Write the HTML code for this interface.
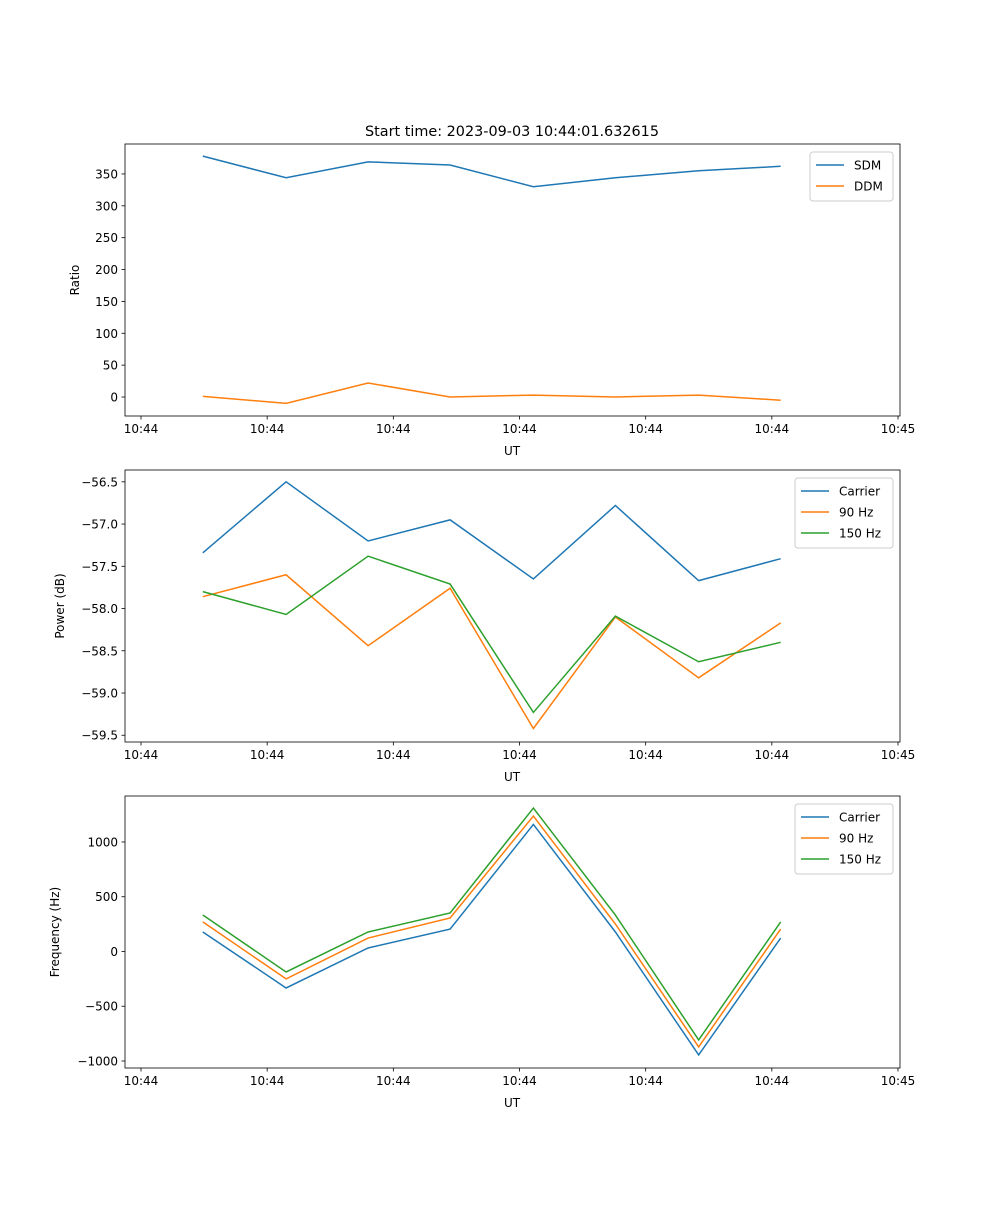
<!DOCTYPE html>
<html><head><meta charset="utf-8"><style>
html,body{margin:0;padding:0;background:#fff}
svg text{font-family:"DejaVu Sans","Liberation Sans",sans-serif;fill:#000}
</style></head><body>
<svg id="fig" width="1000" height="1200" xmlns="http://www.w3.org/2000/svg">
<text x="512" y="136" font-size="14.4" text-anchor="middle">Start time: 2023-09-03 10:44:01.632615</text>
</svg>
<script>
const times = [4.9, 11.5, 18.0, 24.5, 31.1, 37.6, 44.2, 50.7];
const xTickVals = [0, 10, 20, 30, 40, 50, 60];
const xTickLabels = ["10:44","10:44","10:44","10:44","10:44","10:44","10:45"];
const sdm = [378, 344, 369, 364, 330, 344, 355, 362];
const ddm = [1, -10, 22, 0, 3, 0, 3, -5];
const powCarrier = [-57.34, -56.5, -57.2, -56.95, -57.65, -56.78, -57.67, -57.41];
const pow90 = [-57.86, -57.6, -58.44, -57.76, -59.42, -58.1, -58.82, -58.17];
const pow150 = [-57.8, -58.07, -57.38, -57.71, -59.23, -58.09, -58.63, -58.4];
const freqCarrier = [178, -333, 32, 205, 1160, 178, -945, 123];
const freq90 = [270, -250, 123, 306, 1237, 251, -872, 205];
const freq150 = [333, -187, 178, 352, 1310, 333, -808, 270];
const yTicks1 = [0, 50, 100, 150, 200, 250, 300, 350];
const yTicks2 = [-56.5, -57.0, -57.5, -58.0, -58.5, -59.0, -59.5];
const yTicks3 = [1000, 500, 0, -500, -1000];

const NS = "http://www.w3.org/2000/svg";
const svg = document.getElementById('fig');
function mk(tag, attrs, parent){const e=document.createElementNS(NS,tag);for(const k in attrs)e.setAttribute(k,attrs[k]);(parent||svg).appendChild(e);return e;}
const L=125,R=900;
const xs = t => L + 16 + (t - 0) * (898 - 141) / 60;
function panel(name, top, bottom, ymin, ymax, yticks, fmt, ylabel, series, legend){
  const g = mk('g',{});
  
  
  const ys = v => bottom - (v - ymin) / (ymax - ymin) * (bottom - top);
  series.forEach(s=>{
    const p = mk('polyline',{points:s.vals.map((v,i)=>xs(times[i])+','+ys(v)).join(' '),fill:'none',stroke:s.color,'stroke-width':1.5},g);
    
    
  });
  const f = mk('rect',{x:L,y:top,width:R-L,height:bottom-top,fill:'none',stroke:'#000','stroke-width':0.8},g);
  
  
  xTickVals.forEach((t,i)=>{
    const x=xs(t);
    mk('line',{x1:x,x2:x,y1:bottom,y2:bottom+3.5,stroke:'#000','stroke-width':0.8},g);
    const tx=mk('text',{x:x,y:bottom+17,'font-size':12,'text-anchor':'middle'},g);
    tx.textContent=xTickLabels[i];
    
    
  });
  yticks.forEach(v=>{
    const y=ys(v);
    mk('line',{x1:L-3.5,x2:L,y1:y,y2:y,stroke:'#000','stroke-width':0.8},g);
    const tx=mk('text',{x:L-7,y:y+4.5,'font-size':12,'text-anchor':'end'},g);
    tx.textContent=fmt(v);
    
    
  });
  const xl=mk('text',{x:512,y:bottom+39,'font-size':12,'text-anchor':'middle'},g);
  xl.textContent='UT';
  
  
  const yl=mk('text',{x:0,y:0,'font-size':12,'text-anchor':'middle',transform:`translate(${legend.ylx},${(top+bottom)/2}) rotate(-90)`},g);
  yl.textContent=ylabel;
  
  
  const lg=mk('g',{},g);
  
  
  mk('rect',{x:legend.x,y:top+8,width:legend.w,height:series.length*21+7,rx:3,fill:'#fff',stroke:'#ccc','stroke-width':1},lg);
  series.forEach((s,i)=>{
    const yy=top+8+13+i*21;
    mk('line',{x1:legend.x+6,x2:legend.x+34,y1:yy,y2:yy,stroke:s.color,'stroke-width':1.5},lg);
    const t=mk('text',{x:legend.x+44,y:yy+4.5,'font-size':12},lg);
    t.textContent=s.label;
    
    
  });
}
const B='#1f77b4',O='#ff7f0e',G='#2ca02c';
panel('ratio-panel',144,416,-29.8,397,yTicks1,v=>String(v),'Ratio',
  [{id:'sdm-line',vals:sdm,color:B,label:'SDM'},{id:'ddm-line',vals:ddm,color:O,label:'DDM'}],{x:810,w:83,ylx:79});
panel('power-panel',470,742,-59.58,-56.36,yTicks2,v=>v.toFixed(1).replace('-','\u2212'),'Power (dB)',
  [{id:'power-carrier-line',vals:powCarrier,color:B,label:'Carrier'},{id:'power-90hz-line',vals:pow90,color:O,label:'90 Hz'},{id:'power-150hz-line',vals:pow150,color:G,label:'150 Hz'}],{x:795,w:98,ylx:64});
panel('frequency-panel',796,1068,-1064,1420,yTicks3,v=>String(v).replace('-','\u2212'),'Frequency (Hz)',
  [{id:'freq-carrier-line',vals:freqCarrier,color:B,label:'Carrier'},{id:'freq-90hz-line',vals:freq90,color:O,label:'90 Hz'},{id:'freq-150hz-line',vals:freq150,color:G,label:'150 Hz'}],{x:795,w:98,ylx:59});
</script>
</body></html>
